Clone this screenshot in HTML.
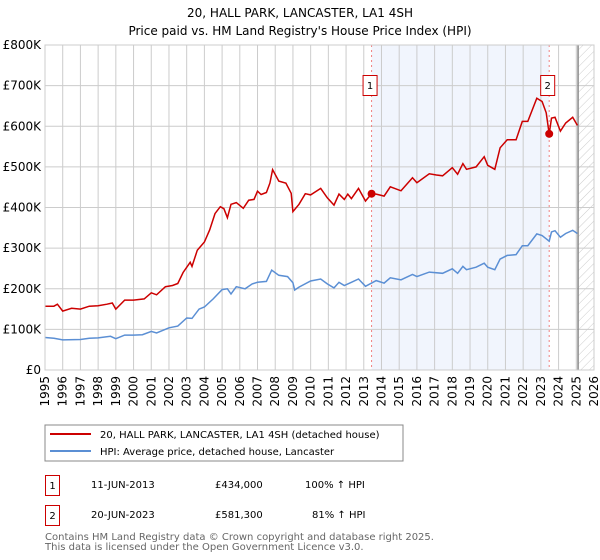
<!DOCTYPE html>
<html><head><meta charset="utf-8"><style>
body{margin:0;background:#fff;}
svg{display:block;font-family:"DejaVu Sans","Liberation Sans",sans-serif;}
</style></head><body>
<svg id="chart" width="600" height="560" viewBox="0 0 600 560">
<text x="300" y="17" text-anchor="middle" font-size="12">20, HALL PARK, LANCASTER, LA1 4SH</text>
<text x="300" y="35" text-anchor="middle" font-size="12">Price paid vs. HM Land Registry's House Price Index (HPI)</text>
<defs><pattern id="hatch" width="6" height="6" patternUnits="userSpaceOnUse" patternTransform="rotate(45)"><line x1="0" y1="0" x2="0" y2="6" stroke="#ccc" stroke-width="1"/></pattern></defs>
<g id="plot"></g>
<rect x="45" y="425" width="358" height="36" fill="#fff" stroke="#888"/>
<line x1="50" y1="434" x2="91" y2="434" stroke="#cc0000" stroke-width="2"/>
<text x="100" y="438" font-size="10">20, HALL PARK, LANCASTER, LA1 4SH (detached house)</text>
<line x1="50" y1="451" x2="91" y2="451" stroke="#5b8fd4" stroke-width="2"/>
<text x="100" y="455" font-size="10">HPI: Average price, detached house, Lancaster</text>
<rect x="45.5" y="475.5" width="14" height="20" fill="#fff" stroke="#cc0000"/>
<text x="52.5" y="489" font-size="10" text-anchor="middle">1</text>
<text x="91" y="488" font-size="10">11-JUN-2013</text>
<text x="215" y="488" font-size="10">£434,000</text>
<text x="305" y="488" font-size="10">100% ↑ HPI</text>
<rect x="45.5" y="505.5" width="14" height="20" fill="#fff" stroke="#cc0000"/>
<text x="52.5" y="519" font-size="10" text-anchor="middle">2</text>
<text x="91" y="518" font-size="10">20-JUN-2023</text>
<text x="215" y="518" font-size="10">£581,300</text>
<text x="312" y="518" font-size="10">81% ↑ HPI</text>
<text x="45" y="540" font-size="10" fill="#666">Contains HM Land Registry data © Crown copyright and database right 2025.</text>
<text x="45" y="550" font-size="10" fill="#666">This data is licensed under the Open Government Licence v3.0.</text>
</svg>
<script>
const hpiYears=[1995,1995.5,1996,1997,1997.5,1998,1998.7,1999,1999.5,2000,2000.5,2001,2001.3,2002,2002.5,2003,2003.3,2003.7,2004,2004.5,2005,2005.3,2005.5,2005.8,2006.3,2006.7,2007,2007.5,2007.8,2008.2,2008.7,2009,2009.1,2009.34,2010,2010.57,2010.94,2011.32,2011.6,2011.9,2012.3,2012.7,2013.1,2013.7,2014.15,2014.5,2015.1,2015.75,2016,2016.7,2017.45,2018,2018.3,2018.6,2018.8,2019.34,2019.8,2020,2020.4,2020.7,2021.1,2021.6,2021.95,2022.26,2022.77,2023.07,2023.47,2023.6,2023.8,2024.1,2024.4,2024.8,2025.06];
const hpiValues=[80,78,74,75,78,79,83,77,86,86,87,95,91,104,108,128,127,150,155,175,198,200,187,205,200,212,216,218,246,233,230,215,197,204,219,224,212,202,216,208,216,224,206,220,214,227,222,235,230,241,238,249,238,255,247,253,263,253,247,273,282,284,306,306,335,331,317,340,343,327,336,344,336];
const propYears=[1995,1995.5,1995.7,1996,1996.5,1997,1997.5,1998,1998.5,1998.8,1999,1999.5,2000,2000.6,2001,2001.3,2001.8,2002.2,2002.5,2002.8,2003.2,2003.3,2003.6,2004,2004.3,2004.6,2004.9,2005.1,2005.3,2005.5,2005.8,2006.2,2006.5,2006.8,2007,2007.2,2007.5,2007.7,2007.85,2008.2,2008.6,2008.9,2009.0,2009.34,2009.7,2010,2010.57,2010.94,2011.32,2011.6,2011.9,2012.1,2012.3,2012.7,2013.1,2013.44,2013.7,2014.15,2014.5,2015.1,2015.75,2016,2016.7,2017.1,2017.45,2018,2018.3,2018.6,2018.8,2019.34,2019.8,2020,2020.4,2020.7,2021.1,2021.6,2021.95,2022.26,2022.77,2023.07,2023.3,2023.47,2023.6,2023.8,2024.1,2024.4,2024.8,2025.06];
const propValues=[157,157,162,145,152,150,157,158,162,165,150,172,172,175,190,185,205,208,213,240,265,255,295,315,345,385,402,397,375,408,412,398,418,420,440,432,437,460,493,465,460,435,390,408,434,431,447,424,406,433,420,433,422,447,416,434,433,428,451,441,473,461,483,480,478,498,482,508,494,500,525,504,494,547,567,567,612,612,669,661,633,581,620,622,588,608,622,602];
const saleYears=[2013.44,2023.47];
const saleValues=[434,581.3];
const saleLabels=["1","2"];
const yTicks=[0,100,200,300,400,500,600,700,800];
const yTickLabels=["£0","£100K","£200K","£300K","£400K","£500K","£600K","£700K","£800K"];
const xTicks=[1995,1996,1997,1998,1999,2000,2001,2002,2003,2004,2005,2006,2007,2008,2009,2010,2011,2012,2013,2014,2015,2016,2017,2018,2019,2020,2021,2022,2023,2024,2025,2026];

const X0=45,X1=594,Y0=370,Y1=45;
const xs=y=>X0+(y-1995)/31*(X1-X0);
const ys=v=>Y0-v/800*(Y0-Y1);
const NS="http://www.w3.org/2000/svg";
const g=document.getElementById('plot');
function mk(t,a){const e=document.createElementNS(NS,t);for(const k in a)e.setAttribute(k,a[k]);g.appendChild(e);return e;}

let e=mk('rect',{x:X0,y:Y1,width:X1-X0,height:Y0-Y1,fill:'#fff'});


e=mk('rect',{x:xs(saleYears[0]),y:Y1,width:xs(saleYears[1])-xs(saleYears[0]),height:Y0-Y1,fill:'#eef3fc',opacity:0.8});


e=mk('rect',{x:xs(2025.1),y:Y1,width:X1-xs(2025.1),height:Y0-Y1,fill:'url(#hatch)'});


xTicks.forEach(t=>{
  const l=mk('line',{x1:xs(t),x2:xs(t),y1:Y1,y2:Y0,stroke:'#ccc','stroke-width':1});
  
  
  const tx=mk('text',{x:0,y:0,'font-size':12,'text-anchor':'end',transform:`translate(${xs(t)+4},${Y0+6}) rotate(-90)`});
  tx.textContent=t;
  
  
});
yTicks.forEach((t,i)=>{
  const l=mk('line',{x1:X0,x2:X1,y1:ys(t),y2:ys(t),stroke:'#ccc','stroke-width':1});
  
  
  const tx=mk('text',{x:X0-4,y:ys(t)+4,'font-size':12,'text-anchor':'end'});
  tx.textContent=yTickLabels[i];
  
  
});
e=mk('line',{x1:xs(2025.1),x2:xs(2025.1),y1:Y1,y2:Y0,stroke:'#888','stroke-width':1.5});


saleYears.forEach((s,i)=>{
  const l=mk('line',{x1:xs(s),x2:xs(s),y1:Y1,y2:Y0,stroke:'#f08080','stroke-width':1,'stroke-dasharray':'2,3'});
  
  
});
const pts=(xa,va)=>xa.map((x,i)=>xs(x).toFixed(1)+','+ys(va[i]).toFixed(1)).join(' ');
e=mk('polyline',{points:pts(hpiYears,hpiValues),fill:'none',stroke:'#5b8fd4','stroke-width':1.5});


e=mk('polyline',{points:pts(propYears,propValues),fill:'none',stroke:'#cc0000','stroke-width':1.5});


saleYears.forEach((s,i)=>{
  const c=mk('circle',{cx:xs(s),cy:ys(saleValues[i]),r:4,fill:'#cc0000'});
  
  
  const bx=xs(s)-7;
  const r=mk('rect',{x:bx-1.5,y:75.5,width:14,height:20,fill:'#fff',stroke:'#cc0000'});
  
  
  const t=mk('text',{x:bx+5.5,y:89,'font-size':10,'text-anchor':'middle'});
  t.textContent=saleLabels[i];
  
  
});
e=mk('rect',{x:X0,y:Y1,width:X1-X0,height:Y0-Y1,fill:'none',stroke:'#ccc'});


</script>
</body></html>
